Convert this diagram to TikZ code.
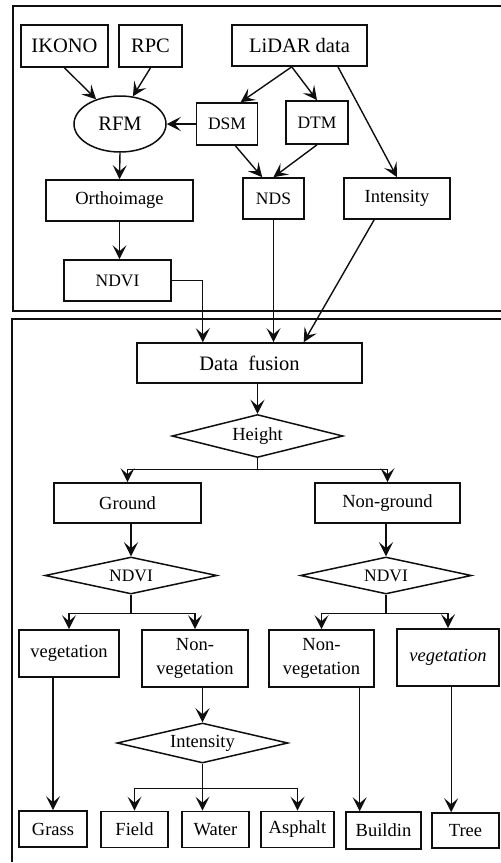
\documentclass[tikz,border=0pt]{standalone}
\usepackage{fontspec}
\setmainfont{Liberation Serif}
\usetikzlibrary{arrows.meta,shapes.geometric,calc}
\definecolor{ink}{RGB}{15,15,15}
\tikzset{box/.style={draw=ink,line width=1.6pt,inner sep=2pt,align=center,font=\fontsize{18.5}{24}\selectfont},
  dims/.style 2 args={minimum width=#1pt,minimum height=#2pt},
  big/.style={font=\fontsize{20.5}{25}\selectfont},
  small/.style={font=\fontsize{17.5}{21}\selectfont},
  choice/.style={diamond,draw=ink,line width=1.5pt,inner sep=0pt,aspect=4,font=\fontsize{18.5}{24}\selectfont},
  flow/.style={-{Stealth[length=14pt,width=14pt,inset=6pt]},line width=1.4pt,ink},
  rule/.style={line width=1.4pt,ink}}

\begin{document}
\begin{tikzpicture}[x=1pt,y=-1pt]
\useasboundingbox (0,0) rectangle (501,863);
% panels
\draw[rule] (501,6) -- (13,6) -- (13,311) -- (501,311);
\draw[rule] (501,319) -- (12,319) -- (12,862);
% inputs
\node[box,big,dims={87}{42}] (ikono) at (64.5,46) {IKONO};
\node[box,big,dims={63}{42}] (rpc) at (150.5,46) {RPC};
\node[box,big,dims={135}{41}] (lidar) at (299.5,45.5) {LiDAR data};
\node[ellipse,draw=ink,line width=1.5pt,inner sep=0pt,big,dims={92}{56}] (rfm) at (120,124) {RFM};
\node[box,small,dims={61}{42}] (dsm) at (227,124) {DSM};
\node[box,small,dims={62}{43}] (dtm) at (317,122.5) {DTM};
\node[box,dims={147}{41}] (ortho) at (119.5,200.5) {Orthoimage};
\node[box,small,dims={61}{41}] (nds) at (273.5,198.5) {NDS};
\node[box,dims={106}{41}] (intA) at (397,198.5) {Intensity};
\node[box,small,dims={107}{41}] (ndviA) at (117.5,280.5) {NDVI};
% classification
\node[box,big,dims={225}{40}] (fusion) at (249.5,363) {Data\ \ fusion};
\node[choice,dims={171}{43}] (height) at (257.5,436) {Height};
\node[box,dims={147}{40}] (ground) at (127.5,503) {Ground};
\node[box,dims={145}{40}] (nonground) at (387.5,503) {Non-ground};
\node[choice,small,dims={172}{37}] (ndviB) at (131,575.5) {NDVI};
\node[choice,small,dims={171}{37}] (ndviC) at (386,575.5) {NDVI};
\node[box,dims={100}{47}] (vegA) at (69,653.5) {vegetation};
\node[box,dims={106}{57}] (nvegA) at (195,658.5) {Non-\\vegetation};
\node[box,dims={105}{57}] (nvegB) at (321.5,658.5) {Non-\\vegetation};
\node[box,dims={102}{57}] (vegB) at (448,657.5) {\itshape vegetation};
\node[choice,dims={171}{40}] (intB) at (202.5,743) {Intensity};
\node[box,dims={68}{36}] (grass) at (53,829) {Grass};
\node[box,dims={67}{36}] (field) at (134.5,829.5) {Field};
\node[box,dims={67}{36}] (water) at (215.5,829.5) {Water};
\node[box,dims={73}{36}] (asphalt) at (297.5,829.5) {Asphalt};
\node[box,dims={75}{37}] (buildin) at (383.5,830.5) {Buildin};
\node[box,dims={67}{35}] (tree) at (465.5,830.5) {Tree};
% connectors, top panel
\draw[flow] (ikono.south) -- (rfm.134);
\draw[flow] (rpc.south) -- (rfm.65);
\draw[flow] (lidar.250) -- (dsm.58);
\draw[flow] (lidar.250) -- (dtm.north);
\draw[flow] (lidar.331) -- (intA.north);
\draw[flow] (dsm.west) -- (rfm.east);
\draw[flow] (dsm.291) -- (nds.118);
\draw[flow] (dtm.south) -- (nds.north);
\draw[flow] (rfm.south) -- (ortho.north);
\draw[flow] (ortho.south) -- (ortho.south |- ndviA.north);
\draw[flow] (ndviA.east) -| (fusion.156);
\draw[flow] (nds.south) -- (nds.south |- fusion.north);
\draw[flow] (intA.223) -- (fusion.21);
% connectors, bottom panel
\draw[flow] (fusion.south -| height.north) -- (height.north);
\draw[rule] (height.south) -- ++(0,11) coordinate (hsplit);
\draw[flow] (hsplit) -| (ground.north);
\draw[flow] (hsplit) -| (nonground.north);
\draw[flow] (ndviB.north |- ground.south) -- (ndviB.north);
\draw[flow] (ndviC.north |- nonground.south) -- (ndviC.north);
\draw[rule] (ndviB.south) -- ++(0,19) coordinate (bsplit);
\draw[flow] (bsplit) -| (vegA.north);
\draw[flow] (bsplit) -| (nvegA.north);
\draw[rule] (ndviC.south) -- ++(0,19) coordinate (csplit);
\draw[flow] (csplit) -| (nvegB.north);
\draw[flow] (csplit) -| (vegB.north);
\draw[flow] (grass.north |- vegA.south) -- (grass.north);
\draw[flow] (intB.north |- nvegA.south) -- (intB.north);
\draw[rule] (intB.south) -- ++(0,25) coordinate (isplit);
\draw[flow] (isplit) -| (field.north);
\draw[flow] (isplit) -- (isplit |- water.north);
\draw[flow] (isplit) -| (asphalt.north);
\draw[flow] (buildin.141 |- nvegB.south) -- (buildin.141);
\draw[flow] (tree.128 |- vegB.south) -- (tree.128);
\end{tikzpicture}
\end{document}
